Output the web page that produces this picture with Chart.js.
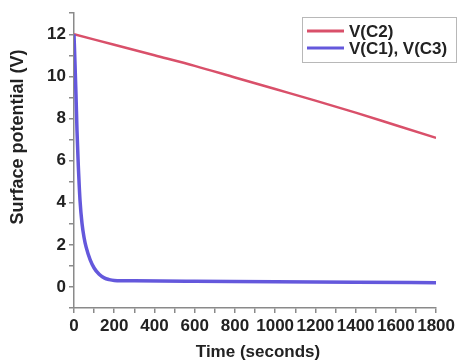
<!DOCTYPE html>
<html>
<head>
<meta charset="utf-8">
<script src="https://cdn.jsdelivr.net/npm/chart.js@4/dist/chart.umd.min.js"></script>
<style>
html,body{margin:0;padding:0;background:#fff;}
#wrap{width:458px;height:362px;position:relative;}
</style>
</head>
<body>
<div id="wrap"><canvas id="c" width="458" height="362"></canvas></div>
<script>
// ---- data ----
const seriesLabels = ["V(C2)", "V(C1), V(C3)"];
const timeC2 = [0, 200, 400, 600, 800, 1000, 1200, 1400, 1600, 1800];
const valueC2 = [12.0, 11.5, 11.0, 10.5, 9.95, 9.4, 8.85, 8.28, 7.68, 7.08];
const timeC1 = [0, 5, 10, 15, 20, 30, 40, 50, 60, 80, 100, 125, 150, 175, 200, 300, 600, 1000, 1400, 1800];
const valueC1 = [12.0, 10.6, 9.1, 7.4, 6.1, 4.1, 3.0, 2.35, 1.9, 1.3, 0.9, 0.6, 0.43, 0.35, 0.31, 0.29, 0.27, 0.25, 0.22, 0.2];
const xTickLabels = [0, 200, 400, 600, 800, 1000, 1200, 1400, 1600, 1800];
const yTickLabels = [0, 2, 4, 6, 8, 10, 12];
const xTitle = "Time (seconds)";
const yTitle = "Surface potential (V)";

const FONT = "'Liberation Sans', Arial, sans-serif";
const redCol = '#d9506a';
const blueCol = '#6458dc';

const titlesPlugin = {
  id: 'titles',
  afterDraw(chart) {
    const ctx = chart.ctx;
    ctx.save();
    ctx.fillStyle = '#222';
    ctx.font = "bold 17px " + FONT;
    ctx.textAlign = 'center';
    ctx.textBaseline = 'middle';
    ctx.fillText(xTitle, 258, 352);
    ctx.translate(18, 137);
    ctx.rotate(-Math.PI / 2);
    ctx.font = "bold 18px " + FONT;
    ctx.fillText(yTitle, 0, 0);
    ctx.restore();
  }
};

const legendPlugin = {
  id: 'boxLegend',
  afterDraw(chart) {
    const ctx = chart.ctx;
    ctx.save();
    const x0 = 302, y0 = 17, w = 155, h = 45;
    ctx.fillStyle = '#fff';
    ctx.fillRect(x0, y0, w, h);
    ctx.strokeStyle = '#b8b8b8';
    ctx.lineWidth = 1;
    ctx.strokeRect(x0 + 0.5, y0 + 0.5, w - 1, h);
    const rows = [31, 48];
    chart.data.datasets.forEach((ds, i) => {
      ctx.strokeStyle = ds.borderColor;
      ctx.lineWidth = 3;
      ctx.beginPath();
      ctx.moveTo(307, rows[i]);
      ctx.lineTo(344, rows[i]);
      ctx.stroke();
      ctx.fillStyle = '#222';
      ctx.font = "bold 17px " + FONT;
      ctx.textAlign = 'left';
      ctx.textBaseline = 'middle';
      ctx.fillText(ds.label, 349, rows[i] + 1);
    });
    ctx.restore();
  }
};

new Chart(document.getElementById('c'), {
  type: 'scatter',
  data: {
    datasets: [
      {
        label: seriesLabels[0],
        data: timeC2.map((t, i) => ({x: t, y: valueC2[i]})),
        showLine: true,
        borderColor: redCol,
        borderWidth: 2.5,
        pointRadius: 0,
        cubicInterpolationMode: 'monotone',
        order: 2
      },
      {
        label: seriesLabels[1],
        data: timeC1.map((t, i) => ({x: t, y: valueC1[i]})),
        showLine: true,
        borderColor: blueCol,
        borderWidth: 3.5,
        pointRadius: 0,
        cubicInterpolationMode: 'monotone',
        order: 1
      }
    ]
  },
  options: {
    responsive: false,
    animation: false,
    layout: {padding: {top: 12, right: 20, left: 0, bottom: 0}},
    plugins: {legend: {display: false}, tooltip: {enabled: false}},
    scales: {
      x: {
        type: 'linear',
        min: 0, max: 1800,
        afterFit(s) { s.height = 54; },
        border: {display: true, color: '#8a8a8a', width: 1.5},
        grid: {display: true, drawOnChartArea: false, drawTicks: true, tickLength: 5, color: '#8a8a8a', lineWidth: 1.5},
        ticks: {
          stepSize: 100, autoSkip: false, maxRotation: 0, minRotation: 0, padding: 3,
          color: '#222',
          font: {family: FONT, weight: 'bold', size: 17},
          callback: v => xTickLabels.includes(v) ? String(v) : ''
        }
      },
      y: {
        type: 'linear',
        min: -1, max: 13,
        afterFit(s) { s.width = 74; },
        border: {display: true, color: '#8a8a8a', width: 1.5},
        grid: {display: true, drawOnChartArea: false, drawTicks: true, tickLength: 5, color: '#8a8a8a', lineWidth: 1.5},
        ticks: {
          stepSize: 1, autoSkip: false, padding: 3,
          color: '#222',
          font: {family: FONT, weight: 'bold', size: 17},
          callback: v => yTickLabels.includes(v) ? String(v) : ''
        }
      }
    }
  },
  plugins: [titlesPlugin, legendPlugin]
});
</script>
</body>
</html>
